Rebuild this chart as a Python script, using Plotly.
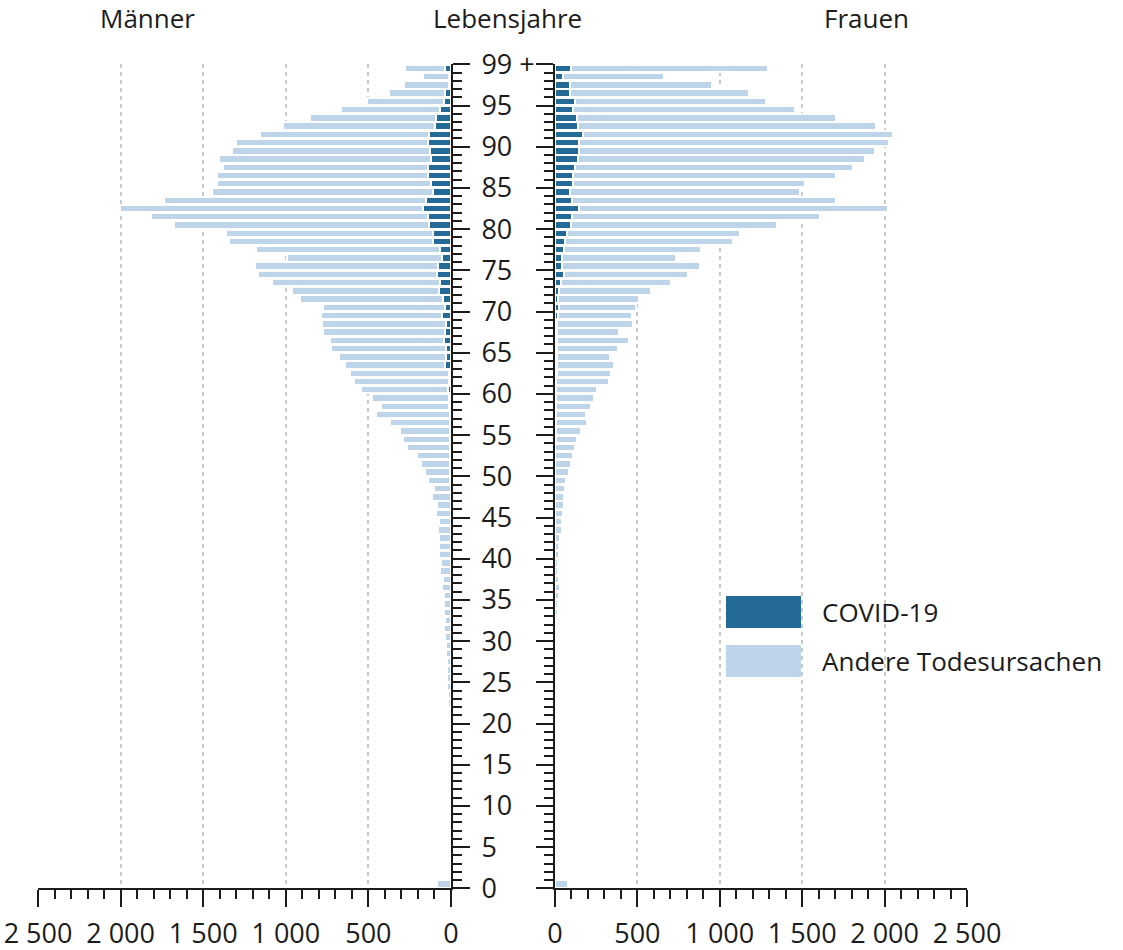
import plotly.graph_objects as go

# Ages listed from 99 (top, "99 +") down to 0
ages_desc = list(range(99, -1, -1))

men_total = [279, 168, 283, 376, 511, 667, 856, 1014, 1157, 1303,      # 99-90
             1327, 1404, 1382, 1416, 1414, 1444, 1739, 2006, 1818, 1675,  # 89-80
             1359, 1341, 1178, 994, 1184, 1166, 1085, 965, 915, 774,     # 79-70
             784, 778, 776, 733, 727, 679, 642, 610, 588, 547,           # 69-60
             477, 424, 453, 372, 309, 291, 267, 206, 180, 160,           # 59-50
             139, 101, 115, 87, 91, 71, 77, 73, 73, 73,                  # 49-40
             59, 65, 50, 55, 40, 42, 40, 38, 40, 35,                     # 39-30
             33, 30, 27, 25, 24, 22, 20, 18, 14, 12,                     # 29-20
             10, 9, 7, 6, 5, 4, 3, 3, 3, 3,                              # 19-10
             2, 2, 2, 2, 2, 2, 3, 4, 7, 87]                              # 9-0

men_covid = [35, 10, 15, 36, 44, 65, 91, 97, 133, 137,
             125, 120, 141, 138, 124, 108, 150, 170, 137, 134,
             106, 111, 67, 52, 76, 83, 64, 70, 47, 36,
             53, 33, 36, 40, 33, 28, 36, 15, 15, 18,
             10, 10, 8, 8, 8, 6, 6, 5, 5, 4,
             4, 3, 3, 3, 3, 2, 2, 2, 2, 1,
             1, 1, 1, 1, 1, 1, 1, 0, 0, 0,
             0, 0, 0, 0, 0, 0, 0, 0, 0, 0,
             0, 0, 0, 0, 0, 0, 0, 0, 0, 0,
             0, 0, 0, 0, 0, 0, 0, 0, 0, 0]

women_total = [1295, 662, 953, 1178, 1283, 1456, 1707, 1947, 2052, 2024,
               1943, 1883, 1806, 1703, 1517, 1485, 1705, 2020, 1608, 1345,
               1121, 1079, 885, 733, 879, 808, 701, 582, 511, 489,
               467, 471, 390, 447, 380, 335, 358, 337, 327, 255,
               236, 216, 188, 194, 158, 133, 119, 109, 95, 85,
               69, 61, 53, 56, 50, 44, 41, 30, 22, 26,
               20, 20, 26, 28, 24, 16, 20, 14, 13, 12,
               10, 10, 9, 8, 7, 6, 6, 5, 5, 4,
               4, 3, 3, 3, 3, 2, 2, 2, 2, 2,
               2, 2, 2, 2, 2, 2, 2, 3, 4, 81]

women_covid = [99, 48, 88, 94, 119, 111, 136, 141, 167, 148,
               143, 137, 121, 111, 107, 88, 101, 148, 101, 98,
               73, 61, 54, 45, 44, 52, 38, 22, 20, 26,
               18, 12, 12, 12, 10, 10, 10, 10, 8, 6,
               6, 6, 5, 5, 4, 4, 3, 3, 3, 2,
               2, 2, 2, 1, 1, 1, 1, 1, 1, 1,
               0, 0, 0, 0, 0, 0, 0, 0, 0, 0,
               0, 0, 0, 0, 0, 0, 0, 0, 0, 0,
               0, 0, 0, 0, 0, 0, 0, 0, 0, 0,
               0, 0, 0, 0, 0, 0, 0, 0, 0, 0]

men_other = [t - c for t, c in zip(men_total, men_covid)]
women_other = [t - c for t, c in zip(women_total, women_covid)]

series_names = ["COVID-19", "Andere Todesursachen"]
age_tick_values = list(range(0, 101, 5))
age_tick_labels = [str(v) for v in range(0, 100, 5)] + ["99 +"]
x_tick_values = [0, 500, 1000, 1500, 2000, 2500]
x_tick_labels = ["0", "500", "1 000", "1 500", "2 000", "2 500"]

DARK = "#246A97"
LIGHT = "#BDD4E9"
INK = "#1c1c1c"
FONT = "Open Sans"

# bars sit in the band between integer boundaries
ypos = [a + 0.5 for a in ages_desc]

fig = go.Figure()
bar_style = dict(orientation="h", width=0.9, showlegend=False, hoverinfo="skip")
fig.add_trace(go.Bar(x=men_covid, y=ypos, xaxis="x", yaxis="y", name=series_names[0],
                     marker=dict(color=DARK, line=dict(color="white", width=2)), **bar_style))
fig.add_trace(go.Bar(x=men_other, y=ypos, xaxis="x", yaxis="y", name=series_names[1],
                     marker=dict(color=LIGHT, line=dict(color="white", width=2)), **bar_style))
fig.add_trace(go.Bar(x=women_covid, y=ypos, xaxis="x2", yaxis="y2", name=series_names[0],
                     marker=dict(color=DARK, line=dict(color="white", width=2)), **bar_style))
fig.add_trace(go.Bar(x=women_other, y=ypos, xaxis="x2", yaxis="y2", name=series_names[1],
                     marker=dict(color=LIGHT, line=dict(color="white", width=2)), **bar_style))

W, H = 1123, 950
ytop, ybot = 64.3, 888.3

xaxis_common = dict(
    tickmode="array", tickvals=x_tick_values, ticktext=x_tick_labels,
    showline=True, linecolor=INK, linewidth=2,
    ticks="outside", ticklen=17, tickwidth=2, tickcolor=INK,
    minor=dict(dtick=100, tick0=0, ticks="outside", ticklen=9, tickwidth=2,
               tickcolor=INK, showgrid=False),
    showgrid=True, gridcolor="#cacaca", gridwidth=2, griddash="4px,4px",
    zeroline=False, tickfont=dict(family=FONT, size=27, color=INK),
    ticklabelstandoff=3, automargin=False, fixedrange=True,
)
yaxis_common = dict(
    range=[0, 100], tickmode="array", tickvals=age_tick_values,
    showline=True, linecolor=INK, linewidth=2,
    ticks="outside", ticklen=17, tickwidth=2, tickcolor=INK,
    minor=dict(dtick=1, tick0=0, ticks="outside", ticklen=9, tickwidth=2,
               tickcolor=INK, showgrid=False),
    showgrid=False, zeroline=False, automargin=False, fixedrange=True,
    domain=[1 - ybot / H, 1 - ytop / H],
)

fig.update_layout(
    width=W, height=H,
    margin=dict(l=0, r=0, t=0, b=0),
    paper_bgcolor="white", plot_bgcolor="white",
    barmode="stack", bargap=0.1,
    font=dict(family=FONT, color=INK),
    xaxis=dict(domain=[38 / W, 451 / W], range=[2500, 0], anchor="y", **xaxis_common),
    xaxis2=dict(domain=[555 / W, 967 / W], range=[0, 2500], anchor="y2", **xaxis_common),
    yaxis=dict(anchor="x", side="right", ticktext=age_tick_labels,
               tickfont=dict(family=FONT, size=27, color=INK), ticklabelstandoff=6,
               **yaxis_common),
    yaxis2=dict(anchor="x2", side="left", showticklabels=False, **yaxis_common),
)

# Titles
for txt, xp in [("Männer", 147), ("Lebensjahre", 507), ("Frauen", 866)]:
    fig.add_annotation(text=txt, x=xp / W, y=1 - 18 / H, xref="paper", yref="paper",
                       xanchor="center", yanchor="middle", showarrow=False,
                       font=dict(family=FONT, size=26, color=INK))

# Legend drawn manually (large swatches)
legend_items = [(series_names[0], DARK, 596, 628), (series_names[1], LIGHT, 645, 677)]
for name, col, y0, y1 in legend_items:
    fig.add_shape(type="rect", xref="paper", yref="paper",
                  x0=726 / W, x1=801 / W, y0=1 - y1 / H, y1=1 - y0 / H,
                  fillcolor=col, line=dict(width=0), layer="above")
    fig.add_annotation(text=name, x=820 / W, y=1 - ((y0 + y1) / 2) / H,
                       xref="paper", yref="paper", xanchor="left", yanchor="middle",
                       showarrow=False, font=dict(family=FONT, size=26, color=INK))

fig.write_html("out.html", config={"displayModeBar": False},
               post_script="document.body.style.margin='0';document.body.style.overflow='hidden';")
